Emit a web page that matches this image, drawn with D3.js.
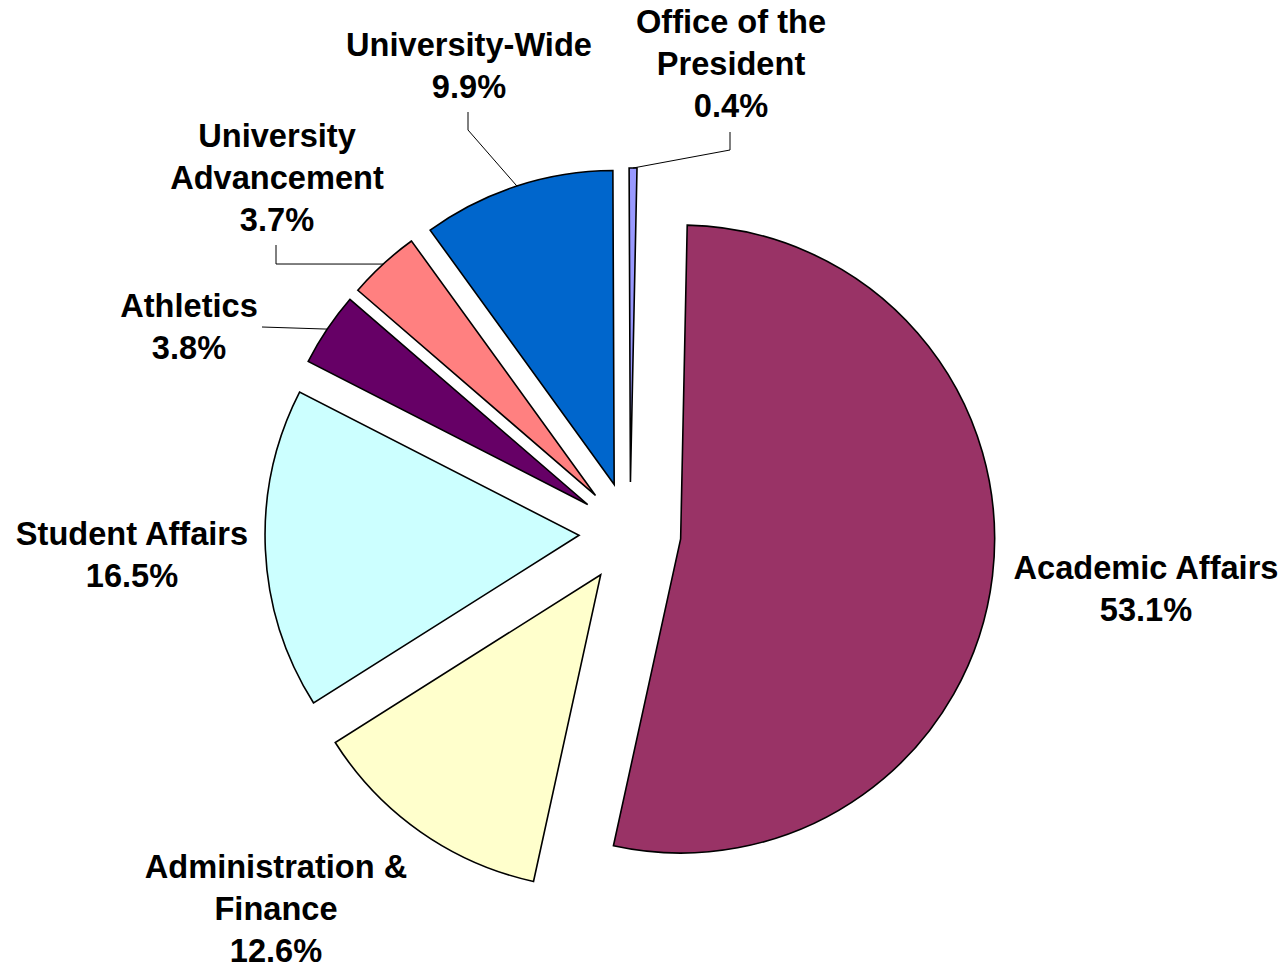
<!DOCTYPE html>
<html>
<head>
<meta charset="utf-8">
<script src="https://cdn.jsdelivr.net/npm/d3@7"></script>
<style>
    body { margin: 0; background: #fff; }
    .lbl { font-family: "Liberation Sans", Arial, sans-serif; font-weight: bold; font-size: 32.6px; fill: #000; }
</style>
</head>
<body>
<svg id="chart" width="1288" height="968"></svg>
<script>
// budget share by division (%)
const units = ["Academic Affairs", "Administration & Finance", "Student Affairs", "Athletics",
    "University Advancement", "University-Wide", "Office of the President"];
const shares = [53.1, 12.6, 16.5, 3.8, 3.7, 9.9, 0.4];
const labelLines = [["Academic Affairs"], ["Administration &", "Finance"], ["Student Affairs"], ["Athletics"],
    ["University", "Advancement"], ["University-Wide"], ["Office of the", "President"]];
const colors = ["#993366", "#FFFFCC", "#CCFFFF", "#660066", "#FF8080", "#0066CC", "#9999FF"];

// layout: label anchor (centre x, first baseline) and leader elbows
const labelPos = [
    { x: 1146, y: 579, leader: null },
    { x: 276, y: 878, leader: null },
    { x: 132, y: 545, leader: null },
    { x: 189, y: 317, leader: [[262, 327]] },
    { x: 277, y: 147, leader: [[276, 264], [276, 245]] },
    { x: 469, y: 56, leader: [[468, 130], [468, 112]] },
    { x: 731, y: 33, leader: [[730, 150], [730, 132]] }
];

const cx = 630, cy = 533, radius = 314, explode = 51, lineH = 42;
const rot = 1.2 * Math.PI / 180;

let data = units.map((u, i) => ({ unit: u, value: shares[i], lines: labelLines[i], color: colors[i], pos: labelPos[i] }));

let pie = d3.pie()
    .sort(null)
    .value(d => d.value)
    .startAngle(rot)
    .endAngle(2 * Math.PI + rot);

let arc = d3.arc().innerRadius(0).outerRadius(radius);
let arcs = pie(data);

let svg = d3.select("#chart");
let g = svg.append("g").attr("transform", "translate(" + cx + "," + cy + ")");

let offset = d => {
    let mid = (d.startAngle + d.endAngle) / 2;
    return [Math.sin(mid) * explode, -Math.cos(mid) * explode];
};

g.selectAll("path.slice")
    .data(arcs)
    .enter()
    .append("path")
    .attr("class", "slice")
    .attr("transform", d => "translate(" + offset(d) + ")")
    .attr("d", arc)
    .attr("fill", d => d.data.color)
    .attr("stroke", "#000")
    .attr("stroke-width", 1.6)
    .attr("stroke-linejoin", "miter");

// leader lines from the middle of the outer arc
let line = d3.line();
arcs.filter(d => d.data.pos.leader).forEach(d => {
    let mid = (d.startAngle + d.endAngle) / 2;
    let o = offset(d);
    let start = [cx + o[0] + Math.sin(mid) * radius, cy + o[1] - Math.cos(mid) * radius];
    svg.append("path")
        .attr("d", line([start].concat(d.data.pos.leader)))
        .attr("fill", "none")
        .attr("stroke", "#000")
        .attr("stroke-width", 1);
});

let fmt = d3.format(".1f");
arcs.forEach(d => {
    let t = svg.append("text")
        .attr("class", "lbl")
        .attr("text-anchor", "middle")
        .attr("x", d.data.pos.x)
        .attr("y", d.data.pos.y);
    d.data.lines.concat([fmt(d.data.value) + "%"]).forEach((s, k) => {
        t.append("tspan")
            .attr("x", d.data.pos.x)
            .attr("y", d.data.pos.y + k * lineH)
            .text(s);
    });
});
</script>
</body>
</html>
